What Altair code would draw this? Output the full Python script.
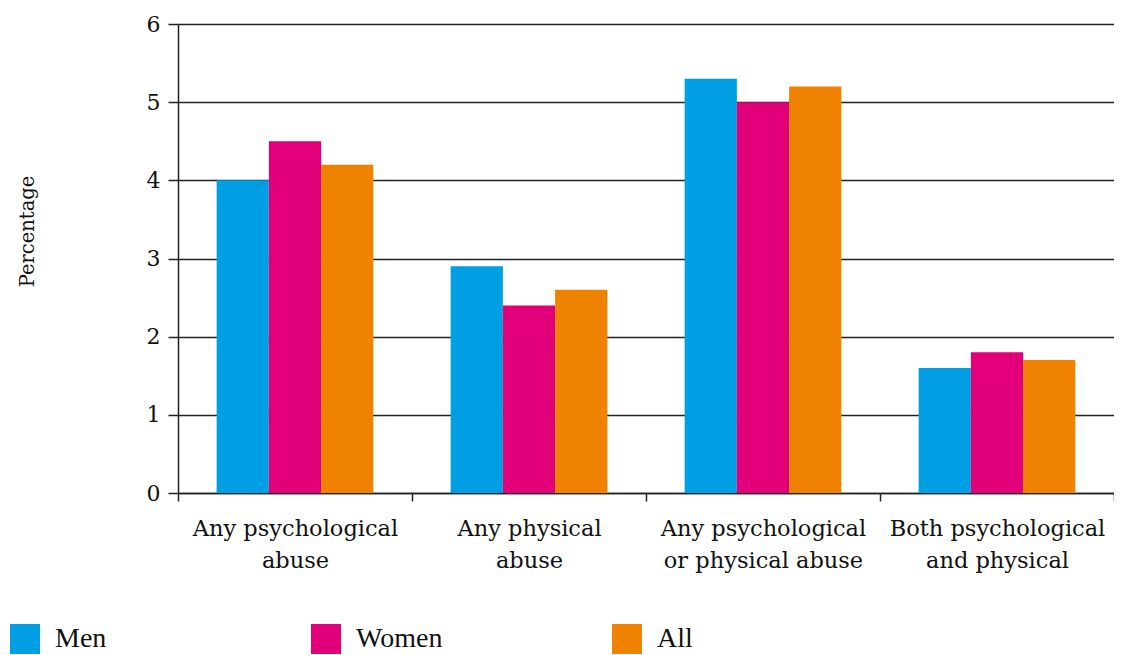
import altair as alt
import pandas as pd

categories = ["Any psychological|abuse", "Any physical|abuse",
              "Any psychological|or physical abuse", "Both psychological|and physical"]
groups = ["Men", "Women", "All"]
men = [4.0, 2.9, 5.3, 1.6]
women = [4.5, 2.4, 5.0, 1.8]
all_ = [4.2, 2.6, 5.2, 1.7]
colors = ["#009fe3", "#e2007a", "#ef8200"]

rows = []
for i, c in enumerate(categories):
    for g, vals in zip(groups, [men, women, all_]):
        rows.append({"category": c, "group": g, "value": vals[i]})
df = pd.DataFrame(rows)

axis_font = "DejaVu Serif"

chart = alt.Chart(df).mark_bar().encode(
    x=alt.X("category:N", sort=categories,
            scale=alt.Scale(paddingInner=0, paddingOuter=0),
            axis=alt.Axis(title=None, labelAngle=0, tickBand="extent",
                          labelExpr="datum.value ? split(datum.value, '|') : ''",
                          labelFont=axis_font, labelFontSize=22.5, labelColor="#111",
                          labelLineHeight=32, labelPadding=16, labelLimit=400,
                          tickSize=8, tickColor="#222", tickWidth=1.5,
                          domainColor="#222", domainWidth=1.5, grid=False)),
    xOffset=alt.XOffset("group:N", sort=groups,
                        scale=alt.Scale(paddingInner=0, paddingOuter=0.74)),
    y=alt.Y("value:Q", scale=alt.Scale(domain=[0, 6], nice=False),
            axis=alt.Axis(title="Percentage", values=[0, 1, 2, 3, 4, 5, 6],
                          labelFont=axis_font, labelFontSize=22, labelColor="#111",
                          labelPadding=8, tickSize=10, tickColor="#222", tickWidth=1.5,
                          domainColor="#222", domainWidth=1.5,
                          grid=True, gridColor="#222", gridWidth=1.5,
                          titleFont=axis_font, titleFontSize=19.5, titleFontWeight="normal",
                          titleColor="#111", titleAngle=270, titleX=-151, titleY=207,
                          titleAlign="center", titleBaseline="middle")),
    color=alt.Color("group:N", sort=groups,
                    scale=alt.Scale(domain=groups, range=colors),
                    legend=alt.Legend(title=None, orient="none", legendX=-168, legendY=600,
                                      direction="horizontal", columns=3, gridAlign="all",
                                      columnPadding=169, symbolType="square",
                                      symbolSize=900, symbolStrokeWidth=0, symbolOpacity=1,
                                      labelFont="Liberation Serif", labelFontSize=28,
                                      labelColor="#111", labelOffset=15)),
).properties(
    width=936, height=469,
    autosize=alt.AutoSizeParams(type="none"),
    padding={"left": 170, "top": 16, "right": 0, "bottom": 162},
).configure_view(stroke=None)

chart.save("out.html", embed_options={"renderer": "svg", "actions": False})
